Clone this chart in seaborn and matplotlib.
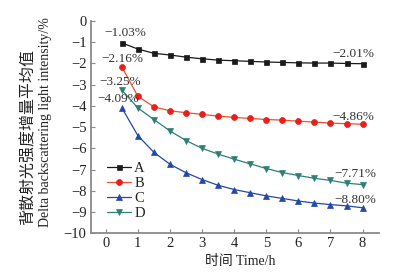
import matplotlib
matplotlib.use("Agg")
import matplotlib.pyplot as plt
import seaborn as sns
import pandas as pd

sns.set_theme(style="ticks")
plt.rcParams['font.family'] = ['Liberation Serif', 'Noto Sans CJK SC', 'DejaVu Sans']
plt.rcParams['axes.unicode_minus'] = True

time_h = [0.5, 1, 1.5, 2, 2.5, 3, 3.5, 4, 4.5, 5, 5.5, 6, 6.5, 7, 7.5, 8]
series_a = [-1.03, -1.32, -1.52, -1.60, -1.70, -1.78, -1.84, -1.87, -1.90, -1.93, -1.95, -1.97, -1.98, -1.98, -2.00, -2.01]
series_b = [-2.16, -3.55, -4.04, -4.23, -4.32, -4.40, -4.48, -4.54, -4.59, -4.64, -4.67, -4.72, -4.76, -4.81, -4.84, -4.86]
series_c = [-4.09, -5.40, -6.19, -6.75, -7.15, -7.47, -7.74, -7.94, -8.09, -8.24, -8.36, -8.48, -8.58, -8.65, -8.71, -8.80]
series_d = [-3.25, -4.10, -4.64, -5.18, -5.63, -6.00, -6.27, -6.51, -6.73, -6.95, -7.14, -7.28, -7.41, -7.51, -7.64, -7.71]
names = ["A", "B", "C", "D"]
start_labels = ["−1.03%", "−2.16%", "−4.09%", "−3.25%"]
end_labels = ["−2.01%", "−4.86%", "−8.80%", "−7.71%"]
x_ticks = [0, 1, 2, 3, 4, 5, 6, 7, 8]
y_ticks = [0, -1, -2, -3, -4, -5, -6, -7, -8, -9, -10]

all_series = [series_a, series_b, series_c, series_d]
line_colors = ["#1a1a1a", "#f0502e", "#2447a8", "#2d7f78"]
marker_colors = ["#1a1a1a", "#e8201c", "#2447a8", "#2d7f78"]
markers = ["s", "o", "^", "v"]
msizes = [3.6, 4.3, 4.5, 4.5]

fig = plt.figure(figsize=(4.11, 2.77), dpi=100)
ax = fig.add_axes([0.2207, 0.158, 0.7013, 0.766])

for name, vals, lc, mc, mk, ms in zip(names, all_series, line_colors, marker_colors, markers, msizes):
    df = pd.DataFrame({"t": time_h, "v": vals})
    sns.lineplot(data=df, x="t", y="v", ax=ax, color=lc, marker=mk, markersize=ms,
                 markerfacecolor=mc, markeredgecolor=mc, markeredgewidth=0.5,
                 linewidth=0.9, label=name)

# annotations (offsets in pixels relative to first / last point; y up)
start_off = [(3, 10), (1, 8), (-4, 9), (-2, 8)]
end_off = [(-9, 10), (-9, 7), (-7, 8), (-7, 11)]
for vals, lab, off in zip(all_series, start_labels, start_off):
    ax.annotate(lab, (time_h[0], vals[0]), xytext=off, textcoords="offset pixels",
                ha="center", va="center", fontsize=9.5, color="#333333")
for vals, lab, off in zip(all_series, end_labels, end_off):
    ax.annotate(lab, (time_h[-1], vals[-1]), xytext=off, textcoords="offset pixels",
                ha="center", va="center", fontsize=9.5, color="#333333")

ax.set_xlim(-0.47, 8.51)
ax.set_ylim(-10, 0)
ax.set_xticks(x_ticks)
ax.set_yticks(y_ticks)
ax.set_xticklabels([str(v) for v in x_ticks])
ax.set_yticklabels([("−" + str(-v)) if v < 0 else str(v) for v in y_ticks])
ax.tick_params(direction="in", length=3, width=0.8, color="#888888", labelsize=10.5,
               labelcolor="#222222", pad=3)
for s in ["top", "right"]:
    ax.spines[s].set_visible(False)
for s in ["left", "bottom"]:
    ax.spines[s].set_color("#8a8a8a")
    ax.spines[s].set_linewidth(1.3)

ax.set_xlabel("")
ax.set_ylabel("")
fig.text(0.585, 0.055, "时间 Time/h", ha="center", va="center", fontsize=10,
         color="#222222", family=["Liberation Serif", "Noto Sans CJK SC"])
fig.text(0.068, 0.505, "背散射光强度增量平均值", rotation=90, ha="center", va="center",
         fontsize=11.5, color="#222222", family=["Noto Sans CJK SC"])
fig.text(0.11, 0.56, "Delta backscattering light intensity/%", rotation=90, ha="center",
         va="center", fontsize=10, color="#222222", family=["Liberation Serif"])

leg = ax.legend(loc="upper left", bbox_to_anchor=(0.055, 0.337), frameon=False,
                fontsize=10.5, handlelength=1.7, handletextpad=0.2, labelspacing=0.12,
                borderaxespad=0, borderpad=0)
for t in leg.get_texts():
    t.set_color("#222222")

fig.savefig("out.png", dpi=100)
